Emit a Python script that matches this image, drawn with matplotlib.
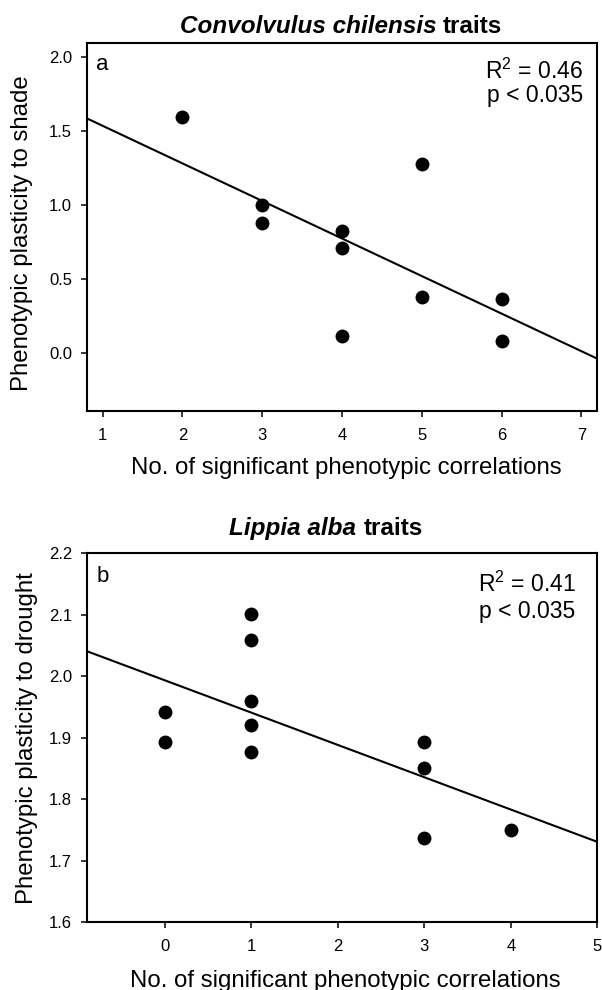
import numpy as np
import matplotlib
matplotlib.use('Agg')
import matplotlib.pyplot as plt

plt.rcParams['font.family'] = ['Liberation Sans', 'DejaVu Sans']
plt.rcParams['mathtext.fontset'] = 'custom'
plt.rcParams['mathtext.rm'] = 'Liberation Sans'
plt.rcParams['mathtext.it'] = 'Liberation Sans:italic'

# panel a - Convolvulus chilensis
conv_x = [2, 3, 3, 4, 4, 4, 5, 5, 6, 6]
conv_y = [1.60, 1.00, 0.88, 0.83, 0.71, 0.12, 1.28, 0.38, 0.37, 0.085]
conv_ticks_x = [1, 2, 3, 4, 5, 6, 7]
conv_ticks_y = [0.0, 0.5, 1.0, 1.5, 2.0]

# panel b - Lippia alba
lip_x = [0, 0, 1, 1, 1, 1, 1, 3, 3, 3, 4]
lip_y = [1.941, 1.893, 2.102, 2.059, 1.959, 1.921, 1.876, 1.893, 1.851, 1.736, 1.750]
lip_ticks_x = [0, 1, 2, 3, 4, 5]
lip_ticks_y = [1.6, 1.7, 1.8, 1.9, 2.0, 2.1, 2.2]

W, H = 602, 990
fig = plt.figure(figsize=(W / 100, H / 100), dpi=100)


def px_axes(left, top, right, bottom):
    return fig.add_axes([left / W, 1 - bottom / H, (right - left) / W, (bottom - top) / H])


def style(ax):
    for s in ax.spines.values():
        s.set_linewidth(1.5)
    ax.tick_params(direction='out', length=4.5, width=1.1, labelsize=12, pad=6)
    ax.tick_params(axis='x', pad=8)


def fit_line(ax, x, y, xlim):
    k, b = np.polyfit(x, y, 1)
    xs = np.array(xlim)
    ax.plot(xs, k * xs + b, color='black', lw=1.5)


def title(italic, plain, xc, yb):
    fs = 17.5
    t1 = fig.text(0, 1 - yb / H, italic, style='italic', weight='bold', fontsize=fs, va='baseline')
    t2 = fig.text(0, 1 - yb / H, plain, weight='bold', fontsize=fs, va='baseline')
    r = fig.canvas.get_renderer()
    w1 = t1.get_window_extent(r).width
    w2 = t2.get_window_extent(r).width
    gap = 0.278 * fs * 100 / 72
    x0 = xc - (w1 + gap + w2) / 2
    t1.set_x(x0 / W)
    t2.set_x((x0 + w1 + gap) / W)


# --- panel a
ax1 = px_axes(86.7, 42.7, 597.3, 411)
style(ax1)
ax1.plot(conv_x, conv_y, 'o', color='black', ms=10, mec='none')
xl1 = (0.8, 7.2)
fit_line(ax1, conv_x, conv_y, xl1)
ax1.set_xlim(xl1)
ax1.set_ylim(-0.39, 2.1)
ax1.set_xticks(conv_ticks_x)
ax1.set_yticks(conv_ticks_y)
ax1.set_yticklabels([f'{v:.1f}' for v in conv_ticks_y])
ax1.set_xlabel('No. of significant phenotypic correlations', fontsize=17.3, va='baseline')
ax1.xaxis.set_label_coords(0.508, -0.171)
ax1.set_ylabel('Phenotypic plasticity to shade', fontsize=17.3, va='center')
ax1.yaxis.set_label_coords(-0.127, 0.483)
ax1.text(0.019, 0.926, 'a', transform=ax1.transAxes, fontsize=16, va='baseline')
ax1.text(0.972, 0.903, r'R$^2$ = 0.46', transform=ax1.transAxes, fontsize=16.5,
         ha='right', va='baseline')
ax1.text(0.972, 0.840, 'p < 0.035', transform=ax1.transAxes, fontsize=16.5,
         ha='right', va='baseline')
title('Convolvulus chilensis', 'traits', 341, 33.3)

# --- panel b
ax2 = px_axes(86.7, 553.3, 597.3, 922)
style(ax2)
ax2.plot(lip_x, lip_y, 'o', color='black', ms=10, mec='none')
xl2 = (-0.9, 5)
fit_line(ax2, lip_x, lip_y, xl2)
ax2.set_xlim(xl2)
ax2.set_ylim(1.6, 2.2)
ax2.set_xticks(lip_ticks_x)
ax2.set_yticks(lip_ticks_y)
ax2.set_yticklabels([f'{v:.1f}' for v in lip_ticks_y])
ax2.set_xlabel('No. of significant phenotypic correlations', fontsize=17.3, va='baseline')
ax2.xaxis.set_label_coords(0.507, -0.176)
ax2.set_ylabel('Phenotypic plasticity to drought', fontsize=17.3, va='center')
ax2.yaxis.set_label_coords(-0.116, 0.499)
ax2.text(0.019, 0.923, 'b', transform=ax2.transAxes, fontsize=16, va='baseline')
ax2.text(0.957, 0.896, r'R$^2$ = 0.41', transform=ax2.transAxes, fontsize=16.5,
         ha='right', va='baseline')
ax2.text(0.957, 0.824, 'p < 0.035', transform=ax2.transAxes, fontsize=16.5,
         ha='right', va='baseline')
title('Lippia alba', 'traits', 326, 535)

fig.savefig('out.png', dpi=100)
